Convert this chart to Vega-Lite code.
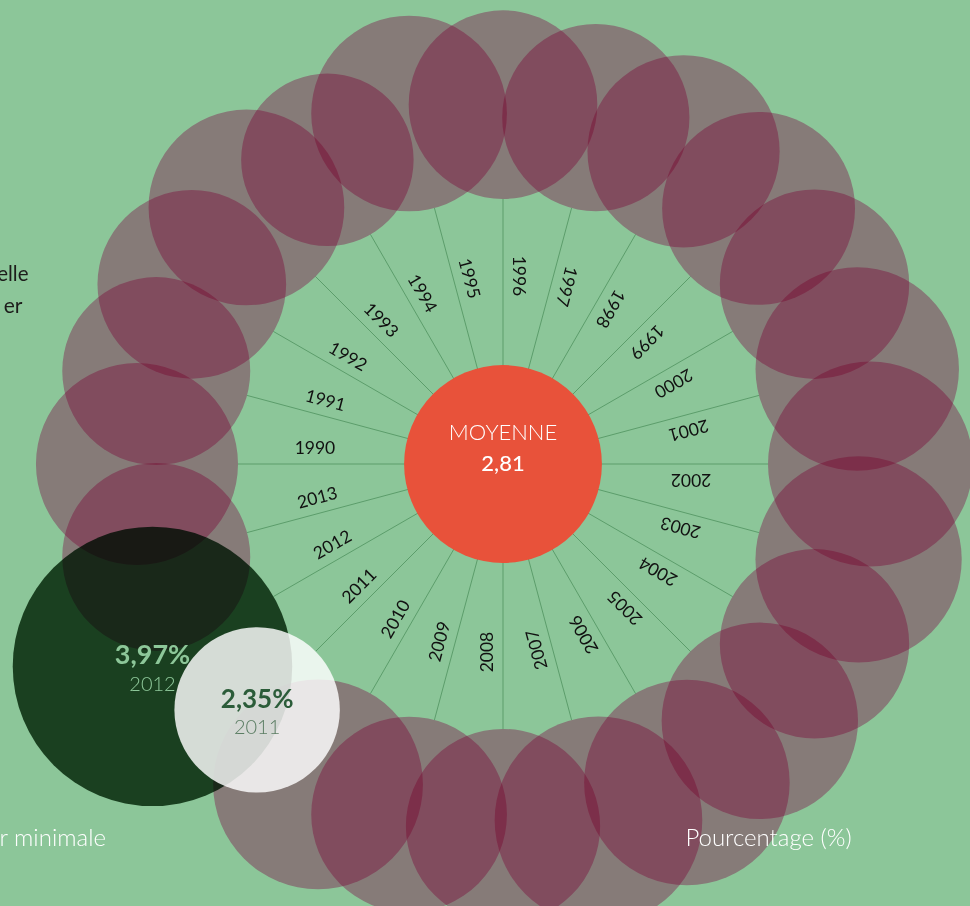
{
  "$schema": "https://vega.github.io/schema/vega-lite/v6.json",
  "width": 970,
  "height": 906,
  "padding": 0,
  "autosize": {"type": "none"},
  "background": "#8cc699",
  "config": {"view": {"stroke": null}, "font": "Lato", "text": {"font": "Lato"}},
  "layer": [
    {
      "data": {
        "values": [
          {"year": 1990, "value": 2.87},
          {"year": 1991, "value": 2.67},
          {"year": 1992, "value": 2.68},
          {"year": 1993, "value": 2.78},
          {"year": 1994, "value": 2.45},
          {"year": 1995, "value": 2.78},
          {"year": 1996, "value": 2.68},
          {"year": 1997, "value": 2.66},
          {"year": 1998, "value": 2.73},
          {"year": 1999, "value": 2.74},
          {"year": 2000, "value": 2.69},
          {"year": 2001, "value": 2.89},
          {"year": 2002, "value": 2.91},
          {"year": 2003, "value": 2.93},
          {"year": 2004, "value": 2.69},
          {"year": 2005, "value": 2.79},
          {"year": 2006, "value": 2.92},
          {"year": 2007, "value": 2.95},
          {"year": 2008, "value": 2.76},
          {"year": 2009, "value": 2.78},
          {"year": 2010, "value": 2.98},
          {"year": 2011, "value": 2.35},
          {"year": 2012, "value": 3.97},
          {"year": 2013, "value": 2.67}
        ]
      },
      "transform": [
        {"calculate": "(datum.year - 1990) * PI / 12", "as": "a"},
        {"calculate": "265 + 35.2 * datum.value", "as": "d"},
        {"calculate": "-cos(datum.a) * datum.d", "as": "cx"},
        {"calculate": "-sin(datum.a) * datum.d", "as": "cy"},
        {"calculate": "-cos(datum.a) * 265", "as": "sx"},
        {"calculate": "-sin(datum.a) * 265", "as": "sy"},
        {"calculate": "-cos(datum.a + 0.077) * 188.6", "as": "lx"},
        {"calculate": "-sin(datum.a + 0.077) * 188.6", "as": "ly"},
        {"calculate": "(datum.year - 1990) * 15", "as": "rot"},
        {"calculate": "replace(format(datum.value, '.2f'), '.', ',') + '%'", "as": "lbl"}
      ],
      "layer": [
        {
          "mark": {"type": "rule", "color": "#5c9d6b", "strokeWidth": 1},
          "encoding": {
            "x": {"field": "sx", "type": "quantitative", "scale": {"domain": [-503, 467], "range": [0, 970], "nice": false, "zero": false}, "axis": null},
            "y": {"field": "sy", "type": "quantitative", "scale": {"domain": [-464, 442], "range": [0, 906], "nice": false, "zero": false}, "axis": null},
            "x2": {"datum": 0},
            "y2": {"datum": 0}
          }
        },
        {
          "mark": {"type": "text", "fontSize": 17.5, "color": "#111111", "align": "center", "baseline": "middle"},
          "encoding": {
            "x": {"field": "lx", "type": "quantitative", "scale": {"domain": [-503, 467], "range": [0, 970], "nice": false, "zero": false}, "axis": null},
            "y": {"field": "ly", "type": "quantitative", "scale": {"domain": [-464, 442], "range": [0, 906], "nice": false, "zero": false}, "axis": null},
            "text": {"field": "year", "type": "nominal"},
            "angle": {"field": "rot", "type": "quantitative", "scale": null}
          }
        },
        {
          "transform": [{"filter": "datum.year != 2011 && datum.year != 2012"}],
          "mark": {"type": "point", "shape": "circle", "filled": true, "opacity": 1, "color": "#f59ec8", "blend": "multiply", "strokeWidth": 0},
          "encoding": {
            "x": {"field": "cx", "type": "quantitative", "scale": {"domain": [-503, 467], "range": [0, 970], "nice": false, "zero": false}, "axis": null},
            "y": {"field": "cy", "type": "quantitative", "scale": {"domain": [-464, 442], "range": [0, 906], "nice": false, "zero": false}, "axis": null},
            "size": {"field": "value", "type": "quantitative", "scale": {"type": "pow", "exponent": 2, "domain": [0, 4], "range": [0, 79299]}, "legend": null}
          }
        },
        {
          "transform": [{"filter": "datum.year == 2012"}],
          "mark": {"type": "point", "shape": "circle", "filled": true, "opacity": 1, "color": "#2f5235", "blend": "multiply", "strokeWidth": 0},
          "encoding": {
            "x": {"field": "cx", "type": "quantitative", "scale": {"domain": [-503, 467], "range": [0, 970], "nice": false, "zero": false}, "axis": null},
            "y": {"field": "cy", "type": "quantitative", "scale": {"domain": [-464, 442], "range": [0, 906], "nice": false, "zero": false}, "axis": null},
            "size": {"field": "value", "type": "quantitative", "scale": {"type": "pow", "exponent": 2, "domain": [0, 4], "range": [0, 79299]}, "legend": null}
          }
        },
        {
          "transform": [{"filter": "datum.year == 2011"}],
          "mark": {"type": "point", "shape": "circle", "filled": true, "opacity": 0.82, "color": "#ffffff", "strokeWidth": 0},
          "encoding": {
            "x": {"field": "cx", "type": "quantitative", "scale": {"domain": [-503, 467], "range": [0, 970], "nice": false, "zero": false}, "axis": null},
            "y": {"field": "cy", "type": "quantitative", "scale": {"domain": [-464, 442], "range": [0, 906], "nice": false, "zero": false}, "axis": null},
            "size": {"field": "value", "type": "quantitative", "scale": {"type": "pow", "exponent": 2, "domain": [0, 4], "range": [0, 79299]}, "legend": null}
          }
        },
        {
          "transform": [{"filter": "datum.year == 2012"}],
          "mark": {"type": "text", "fontSize": 27, "fontWeight": "bold", "color": "#8dc799", "align": "center", "baseline": "middle", "dy": -10},
          "encoding": {
            "x": {"field": "cx", "type": "quantitative", "scale": {"domain": [-503, 467], "range": [0, 970], "nice": false, "zero": false}, "axis": null},
            "y": {"field": "cy", "type": "quantitative", "scale": {"domain": [-464, 442], "range": [0, 906], "nice": false, "zero": false}, "axis": null},
            "text": {"field": "lbl", "type": "nominal"}
          }
        },
        {
          "transform": [{"filter": "datum.year == 2012"}],
          "mark": {"type": "text", "fontSize": 20, "fontWeight": 300, "color": "#8dc799", "align": "center", "baseline": "middle", "dy": 19},
          "encoding": {
            "x": {"field": "cx", "type": "quantitative", "scale": {"domain": [-503, 467], "range": [0, 970], "nice": false, "zero": false}, "axis": null},
            "y": {"field": "cy", "type": "quantitative", "scale": {"domain": [-464, 442], "range": [0, 906], "nice": false, "zero": false}, "axis": null},
            "text": {"field": "year", "type": "nominal"}
          }
        },
        {
          "transform": [{"filter": "datum.year == 2011"}],
          "mark": {"type": "text", "fontSize": 26, "fontWeight": "bold", "color": "#2b5c39", "align": "center", "baseline": "middle", "dy": -10},
          "encoding": {
            "x": {"field": "cx", "type": "quantitative", "scale": {"domain": [-503, 467], "range": [0, 970], "nice": false, "zero": false}, "axis": null},
            "y": {"field": "cy", "type": "quantitative", "scale": {"domain": [-464, 442], "range": [0, 906], "nice": false, "zero": false}, "axis": null},
            "text": {"field": "lbl", "type": "nominal"}
          }
        },
        {
          "transform": [{"filter": "datum.year == 2011"}],
          "mark": {"type": "text", "fontSize": 20, "fontWeight": 300, "color": "#5b7d63", "align": "center", "baseline": "middle", "dy": 18},
          "encoding": {
            "x": {"field": "cx", "type": "quantitative", "scale": {"domain": [-503, 467], "range": [0, 970], "nice": false, "zero": false}, "axis": null},
            "y": {"field": "cy", "type": "quantitative", "scale": {"domain": [-464, 442], "range": [0, 906], "nice": false, "zero": false}, "axis": null},
            "text": {"field": "year", "type": "nominal"}
          }
        }
      ]
    },
    {
      "data": {"values": [{"value": 2.81}]},
      "mark": {"type": "point", "shape": "circle", "filled": true, "opacity": 1, "color": "#e8523a", "strokeWidth": 0},
      "encoding": {
        "x": {"datum": 0, "type": "quantitative", "scale": {"domain": [-503, 467], "range": [0, 970], "nice": false, "zero": false}, "axis": null},
        "y": {"datum": 0, "type": "quantitative", "scale": {"domain": [-464, 442], "range": [0, 906], "nice": false, "zero": false}, "axis": null},
        "size": {"field": "value", "type": "quantitative", "scale": {"type": "pow", "exponent": 2, "domain": [0, 4], "range": [0, 79299]}, "legend": null}
      }
    },
    {
      "data": {"values": [{}]},
      "mark": {"type": "text", "text": "MOYENNE", "fontSize": 22, "fontWeight": 300, "color": "#ffffff", "align": "center", "baseline": "middle"},
      "encoding": {
        "x": {"datum": 0, "type": "quantitative", "axis": null},
        "y": {"datum": -31, "type": "quantitative", "axis": null}
      }
    },
    {
      "data": {"values": [{"value": 2.81}]},
      "transform": [{"calculate": "replace(format(datum.value, '.2f'), '.', ',')", "as": "lbl"}],
      "mark": {"type": "text", "fontSize": 22, "fontWeight": 500, "color": "#ffffff", "align": "center", "baseline": "middle"},
      "encoding": {
        "x": {"datum": 0, "type": "quantitative", "axis": null},
        "y": {"datum": 0, "type": "quantitative", "axis": null},
        "text": {"field": "lbl", "type": "nominal"}
      }
    },
    {
      "data": {"values": [{}]},
      "mark": {"type": "text", "text": "elle", "fontSize": 20.5, "color": "#1d1d1b", "align": "right", "baseline": "alphabetic"},
      "encoding": {
        "x": {"datum": -474.5, "type": "quantitative", "axis": null},
        "y": {"datum": -183, "type": "quantitative", "axis": null}
      }
    },
    {
      "data": {"values": [{}]},
      "mark": {"type": "text", "text": "er", "fontSize": 21, "color": "#1d1d1b", "align": "right", "baseline": "alphabetic"},
      "encoding": {
        "x": {"datum": -480.5, "type": "quantitative", "axis": null},
        "y": {"datum": -151, "type": "quantitative", "axis": null}
      }
    },
    {
      "data": {"values": [{}]},
      "mark": {"type": "text", "text": "r minimale", "fontSize": 24, "fontWeight": 300, "color": "#ffffff", "align": "right", "baseline": "alphabetic"},
      "encoding": {
        "x": {"datum": -397, "type": "quantitative", "axis": null},
        "y": {"datum": 382, "type": "quantitative", "axis": null}
      }
    },
    {
      "data": {"values": [{}]},
      "mark": {"type": "text", "text": "Pourcentage (%)", "fontSize": 24, "fontWeight": 300, "color": "#ffffff", "align": "center", "baseline": "alphabetic"},
      "encoding": {
        "x": {"datum": 265.5, "type": "quantitative", "axis": null},
        "y": {"datum": 382, "type": "quantitative", "axis": null}
      }
    }
  ]
}
